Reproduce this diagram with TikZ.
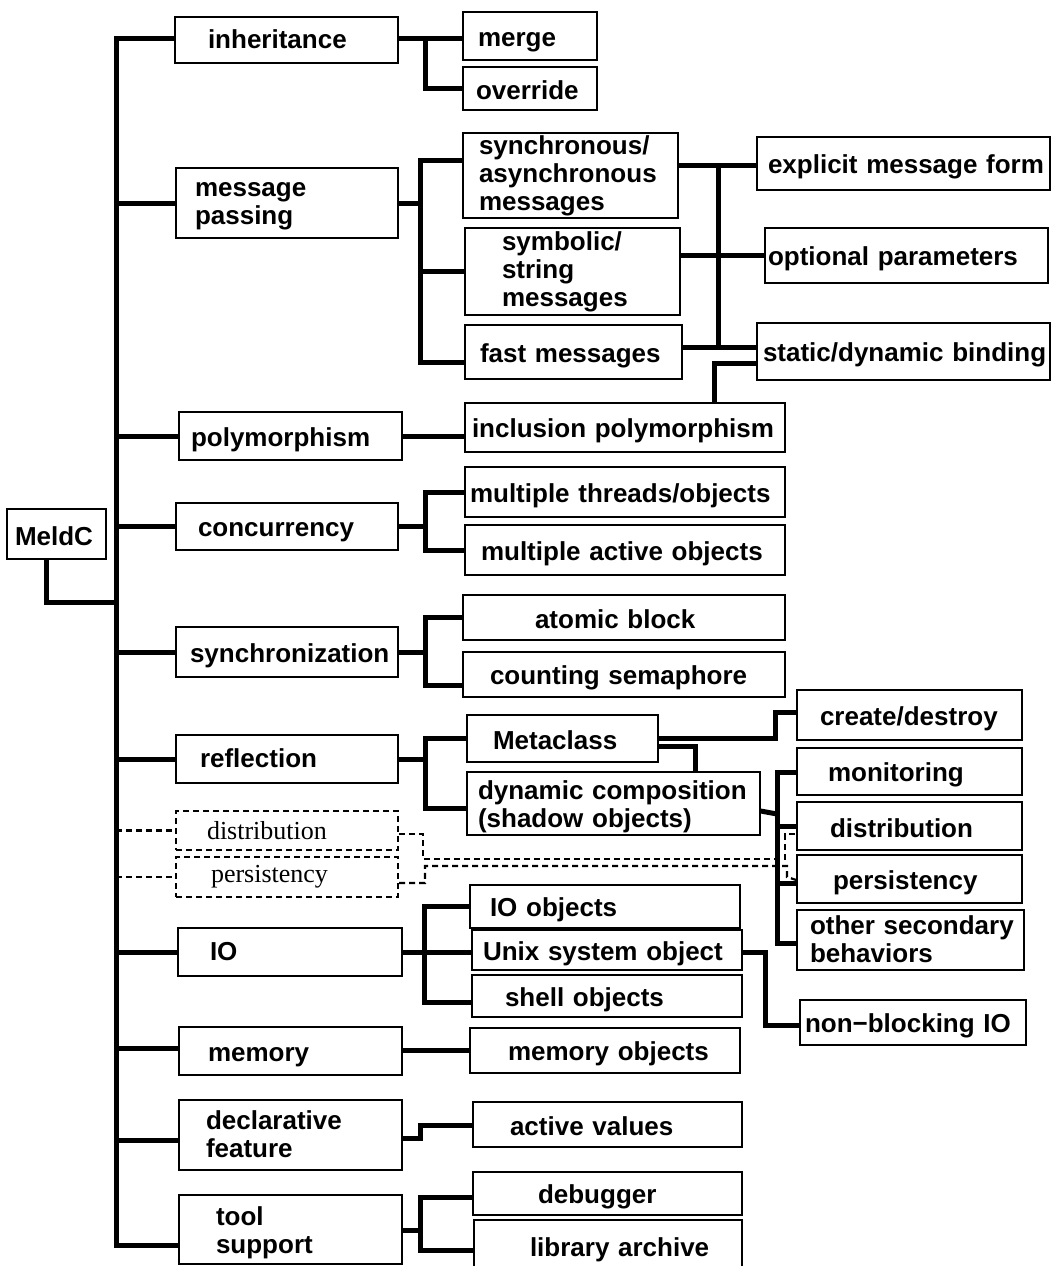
\documentclass[tikz,border=0pt]{standalone}
\usepackage{fontspec}
\setmainfont{Liberation Sans}
\newfontfamily\timesfont{Liberation Serif}
% unbreakable label lines with fixed struts, so every box sets its text alike
\newcommand\keepline[1]{\mbox{\rule[-4pt]{0pt}{24pt}#1}}
\newcommand\oneline[1]{\mbox{\rule[-4pt]{0pt}{30pt}#1}}
\begin{document}
\begin{tikzpicture}[x=1pt,y=-1pt,
  bx/.style={draw, line width=1.4pt, inner sep=0pt, align=left,
    font=\bfseries\fontsize{26}{28}\selectfont},
  dbx/.style={draw, line width=2.2pt, dash pattern=on 6pt off 4pt, inner sep=0pt, align=left,
    font=\timesfont\fontsize{26}{28}\selectfont},
  conn/.style={line width=5pt, line join=miter},
  dconn/.style={line width=2.2pt, dash pattern=on 6pt off 4pt},
]
\fill[white] (0,0) rectangle (1053,1266);
\useasboundingbox (0,0) rectangle (1053,1266);

% root
\node[bx, minimum width=99, minimum height=50, text width=83] (meldc) at (56.5,534) {\oneline{MeldC}};

% first level
\node[bx, minimum width=223, minimum height=46, text width=157] (inh) at (286.5,40) {\keepline{inheritance}};
\node[bx, minimum width=222, minimum height=70, text width=184] (mp) at (287,203) {\keepline{message}\\\keepline{passing}};
\node[bx, minimum width=223, minimum height=48, text width=199] (poly) at (290.5,436) {\oneline{polymorphism}};
\node[bx, minimum width=222, minimum height=47, text width=178] (conc) at (287,526.5) {\oneline{concurrency}};
\node[bx, minimum width=222, minimum height=50, text width=194] (sync) at (287,652) {\oneline{synchronization}};
\node[bx, minimum width=222, minimum height=48, text width=174] (refl) at (287,759) {\keepline{reflection}};
\node[dbx, minimum width=222, minimum height=39, text width=160] (distd) at (287,830.5) {\mbox{distribution}};
\node[dbx, minimum width=222, minimum height=40, text width=152] (persd) at (287,877) {\mbox{persistency}};
\node[bx, minimum width=224, minimum height=48, text width=160] (io) at (290,952) {\keepline{IO}};
\node[bx, minimum width=223, minimum height=48, text width=165] (mem) at (290.5,1051) {\oneline{memory}};
\node[bx, minimum width=223, minimum height=70, text width=169] (decl) at (290.5,1135) {\keepline{declarative}\\\keepline{feature}};
\node[bx, minimum width=223, minimum height=69, text width=149] (tool) at (290.5,1229.5) {\oneline{tool}\\\keepline{support}};

% second level
\node[bx, minimum width=134, minimum height=48, text width=104] (merge) at (530,36) {\oneline{merge}};
\node[bx, minimum width=134, minimum height=43, text width=108] (override) at (530,88.5) {\oneline{override}};
\node[bx, minimum width=215, minimum height=85, text width=183] (sam) at (570.5,175.5) {\keepline{synchronous/}\\\keepline{asynchronous}\\\keepline{messages}};
\node[bx, minimum width=215, minimum height=87, text width=141] (ssm) at (572.5,271.5) {\keepline{symbolic/}\\\keepline{string}\\\keepline{messages}};
\node[bx, minimum width=217, minimum height=54, text width=187] (fast) at (573.5,352) {\oneline{fast messages}};
\node[bx, minimum width=320, minimum height=49, text width=306] (incl) at (625,427.5) {\oneline{inclusion polymorphism}};
\node[bx, minimum width=320, minimum height=50, text width=310] (mto) at (625,492) {\oneline{multiple threads/objects}};
\node[bx, minimum width=320, minimum height=50, text width=288] (mao) at (625,550) {\oneline{multiple active objects}};
\node[bx, minimum width=322, minimum height=45, text width=178] (atomic) at (624,617.5) {\oneline{atomic block}};
\node[bx, minimum width=322, minimum height=45, text width=268] (counting) at (624,674.5) {\oneline{counting semaphore}};
\node[bx, minimum width=191, minimum height=47, text width=139] (metaclass) at (562.5,738.5) {\oneline{Metaclass}};
\node[bx, minimum width=293, minimum height=63, text width=271] (dyncomp) at (613.5,803.5) {\oneline{dynamic composition}\\\keepline{(shadow objects)}};
\node[bx, minimum width=270, minimum height=43, text width=230] (iobj) at (605,906.5) {\oneline{IO objects}};
\node[bx, minimum width=270, minimum height=40, text width=248] (unix) at (607,950) {\oneline{Unix system object}};
\node[bx, minimum width=270, minimum height=42, text width=204] (shell) at (607,996) {\oneline{shell objects}};
\node[bx, minimum width=270, minimum height=45, text width=194] (memobj) at (605,1050.5) {\oneline{memory objects}};
\node[bx, minimum width=269, minimum height=45, text width=195] (active) at (607.5,1124.5) {\oneline{active values}};
\node[bx, minimum width=269, minimum height=43, text width=139] (debug) at (607.5,1193.5) {\oneline{debugger}};
\node[bx, minimum width=268, minimum height=52, text width=156] (libarch) at (608,1246) {\oneline{library archive}};

% third level
\node[bx, minimum width=293, minimum height=53, text width=271] (explicit) at (903.5,163.5) {\oneline{explicit message form}};
\node[bx, minimum width=283, minimum height=55, text width=277] (optional) at (906.5,255.5) {\oneline{optional parameters}};
\node[bx, minimum width=293, minimum height=57, text width=281] (static) at (903.5,351.5) {\oneline{static/dynamic binding}};
\node[bx, minimum width=225, minimum height=50, text width=179] (create) at (909.5,715) {\oneline{create/destroy}};
\node[bx, minimum width=225, minimum height=47, text width=163] (monitoring) at (909.5,771.5) {\oneline{monitoring}};
\node[bx, minimum width=225, minimum height=48, text width=159] (distr) at (909.5,826) {\oneline{distribution}};
\node[bx, minimum width=225, minimum height=48, text width=153] (persr) at (909.5,879) {\oneline{persistency}};
\node[bx, minimum width=227, minimum height=60, text width=201] (other) at (910.5,940) {\keepline{other secondary}\\\keepline{behaviors}};
\node[bx, minimum width=226, minimum height=45, text width=216] (nonblock) at (913,1022.5) {\oneline{non−blocking IO}};

% junction columns
\coordinate (trunk) at (116,0);

% trunk and first-level branches
\draw[conn] (46,0 |- meldc.south) -- (46,602) -- (trunk |- 0,602);
\draw[conn] (inh.west |- 0,38) -- (trunk |- 0,38) -- (trunk |- 0,1245) -- (tool.west |- 0,1245);
\draw[conn] (trunk |- mp.west) -- (mp.west);
\draw[conn] (trunk |- poly.west) -- (poly.west);
\draw[conn] (trunk |- conc.west) -- (conc.west);
\draw[conn] (trunk |- sync.west) -- (sync.west);
\draw[conn] (trunk |- refl.west) -- (refl.west);
\draw[dconn] (trunk |- distd.west) -- (distd.west);
\draw[dconn] (trunk |- persd.west) -- (persd.west);
\draw[conn] (trunk |- io.west) -- (io.west);
\draw[conn] (trunk |- 0,1048) -- (mem.west |- 0,1048);
\draw[conn] (trunk |- 0,1140) -- (decl.west |- 0,1140);

% inheritance
\draw[conn] (inh.east |- 0,38) -- (merge.west |- 0,38);
\draw[conn] (425,38) |- (override.west);

% message passing
\draw[conn] (mp.east) -- (420,0 |- mp.east);
\draw[conn] (sam.west |- 0,160) -- (420,160) -- (420,362) -- (fast.west |- 0,362);
\draw[conn] (420,0 |- ssm.west) -- (ssm.west);
\draw[conn] (sam.east |- 0,165) -- (explicit.west |- 0,165);
\draw[conn] (718,165) -- (718,347);
\draw[conn] (ssm.east |- optional.west) -- (optional.west);
\draw[conn] (fast.east |- 0,347) -- (static.west |- 0,347);

% polymorphism
\draw[conn] (poly.east) -- (incl.west |- poly.east);
\draw[conn] (714,0 |- incl.north) -- (714,363) -- (static.west |- 0,363);

% concurrency
\draw[conn] (conc.east) -- (425,0 |- conc.east);
\draw[conn] (mto.west) -- (425,0 |- mto.west) -- (425,0 |- mao.west) -- (mao.west);

% synchronization
\draw[conn] (sync.east) -- (425,0 |- sync.east);
\draw[conn] (atomic.west) -- (425,0 |- atomic.west) -- (425,685) -- (counting.west |- 0,685);

% reflection
\draw[conn] (refl.east) -- (425,0 |- refl.east);
\draw[conn] (metaclass.west) -- (425,0 |- metaclass.west) -- (425,808) -- (dyncomp.west |- 0,808);
\draw[conn] (metaclass.east |- 0,738) -- (775,738) -- (775,712) -- (create.west |- 0,712);
\draw[conn] (metaclass.east |- 0,746) -- (695,746) -- (695,0 |- dyncomp.north);
\draw[conn] (dyncomp.east |- 0,811) -- (777,814);
\draw[conn] (monitoring.west |- 0,772) -- (777,772) -- (777,943) -- (other.west |- 0,943);
\draw[conn] (777,826) -- (distr.west |- 0,826);
\draw[conn] (777,883) -- (persr.west |- 0,883);

% dashed links of distribution and persistency
\draw[dconn] (distd.east |- 0,834) -- (423,834) -- (423,859) -- (785,859) -- (785,834) -- (distr.west |- 0,834);
\draw[dconn] (persd.east |- 0,883) -- (425,883) -- (425,866) -- (787,866) -- (787,877) -- (persr.west |- 0,880);

% IO
\draw[conn] (io.east) -- (424,0 |- io.east);
\draw[conn] (iobj.west) -- (424,0 |- iobj.west) -- (424,1002) -- (shell.west |- 0,1002);
\draw[conn] (424,0 |- io.east) -- (unix.west |- io.east);
\draw[conn] (unix.east |- 0,952) -- (765,952) -- (765,1025) -- (nonblock.west |- 0,1025);

% memory
\draw[conn] (mem.east |- 0,1050) -- (memobj.west |- 0,1050);

% declarative feature
\draw[conn] (decl.east |- 0,1138) -- (420,1138) -- (420,1125) -- (active.west |- 0,1125);

% tool support
\draw[conn] (tool.east |- 0,1230) -- (420,1230);
\draw[conn] (debug.west |- 0,1197) -- (420,1197) -- (420,1250) -- (libarch.west |- 0,1250);
\end{tikzpicture}
\end{document}
